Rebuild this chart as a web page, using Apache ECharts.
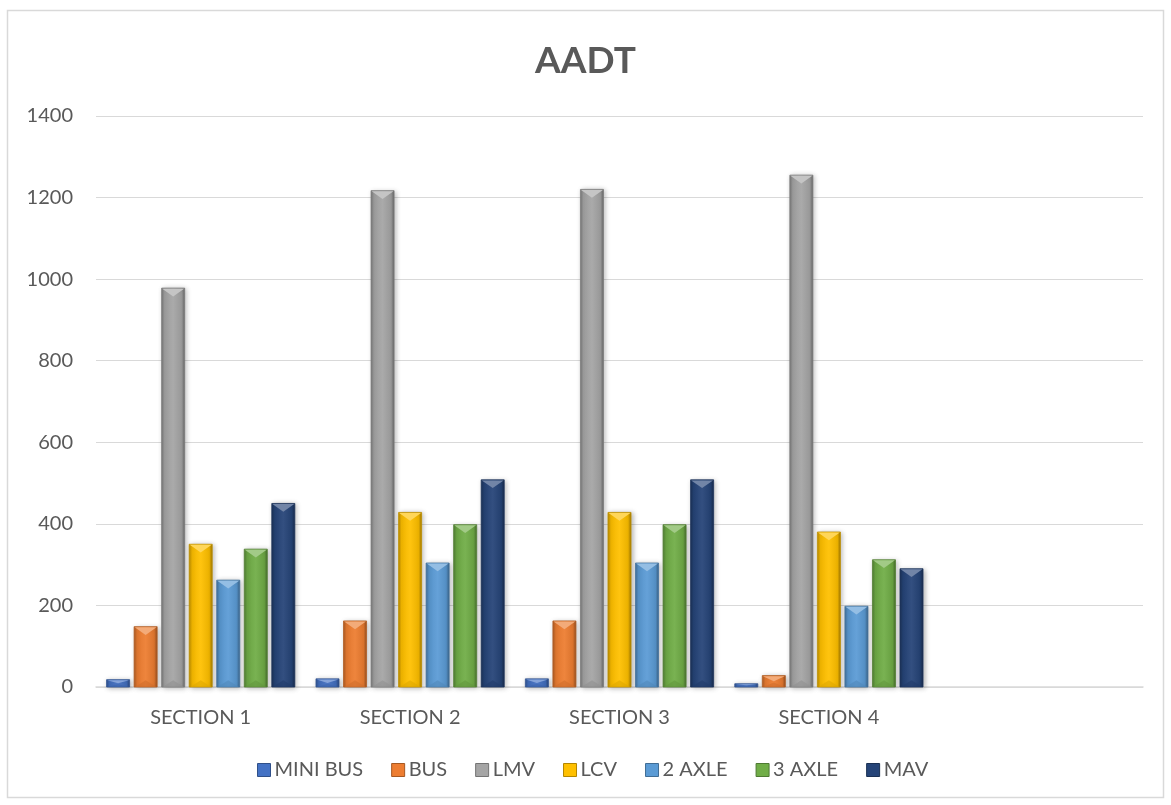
<!DOCTYPE html>
<html>
<head>
<meta charset="utf-8">
<title>AADT</title>
<script src="https://cdn.jsdelivr.net/npm/echarts@6/dist/echarts.min.js"></script>
<style>
  html, body { margin: 0; padding: 0; background: #ffffff; }
  #chart { width: 1171px; height: 805px; }
</style>
</head>
<body>
<div id="chart"></div>
<script>
// Annual average daily traffic by section and vehicle class
const categories = ['SECTION 1', 'SECTION 2', 'SECTION 3', 'SECTION 4', ''];
const seriesNames = ['MINI BUS', 'BUS', 'LMV', 'LCV', '2 AXLE', '3 AXLE', 'MAV'];
const miniBus = [18, 20, 20, 8];
const bus = [148, 162, 162, 28];
const lmv = [978, 1217, 1220, 1255];
const lcv = [350, 428, 428, 380];
const axle2 = [262, 304, 304, 198];
const axle3 = [338, 398, 398, 312];
const mav = [450, 508, 508, 290];
const yTicks = [0, 200, 400, 600, 800, 1000, 1200, 1400];

const seriesValues = [miniBus, bus, lmv, lcv, axle2, axle3, mav];
const palette = ['#4472C4', '#ED7D31', '#A5A5A5', '#FFC000', '#5B9BD5', '#70AD47', '#264478'];

// blend a hex colour toward black (amt < 0) or white (amt > 0)
function shade(hex, amt) {
  const n = parseInt(hex.slice(1), 16);
  let r = (n >> 16) & 255, g = (n >> 8) & 255, b = n & 255;
  const t = amt < 0 ? 0 : 255, p = Math.abs(amt);
  r = Math.round(r + (t - r) * p);
  g = Math.round(g + (t - g) * p);
  b = Math.round(b + (t - b) * p);
  return 'rgb(' + r + ',' + g + ',' + b + ')';
}

// bevelled column: gradient body, light top facet, soft drop shadow
function makeRender(si, count, base) {
  return function (params, api) {
    const cat = api.value(0);
    const val = api.value(1);
    if (val == null || isNaN(val)) return;
    const topPt = api.coord([cat, val]);
    const basePt = api.coord([cat, 0]);
    const band = api.size([1, 0])[0];
    const barW = band * 0.110;
    const pitch = band * 0.1315;
    const cx = topPt[0] + (si - (count - 1) / 2) * pitch;
    const x0 = cx - barW / 2, x1 = cx + barW / 2;
    const y0 = topPt[1], y1 = basePt[1];
    const h = y1 - y0;
    const d = Math.min(barW * 0.36, h / 2);
    const children = [
      {
        type: 'rect',
        shape: { x: x0, y: y0, width: barW, height: h },
        style: {
          fill: {
            type: 'linear', x: 0, y: 0, x2: 1, y2: 0,
            colorStops: [
              { offset: 0, color: shade(base, -0.30) },
              { offset: 0.14, color: shade(base, -0.05) },
              { offset: 0.5, color: shade(base, 0.06) },
              { offset: 0.86, color: shade(base, -0.08) },
              { offset: 1, color: shade(base, -0.40) }
            ]
          },
          stroke: shade(base, -0.25),
          lineWidth: 0.8,
          shadowBlur: 5,
          shadowColor: 'rgba(0,0,0,0.28)',
          shadowOffsetX: 1.5,
          shadowOffsetY: 1
        }
      },
      {
        type: 'polygon',
        shape: { points: [[x0 + 0.6, y0 + 0.6], [x1 - 0.6, y0 + 0.6], [cx, y0 + d]] },
        style: { fill: shade(base, 0.35) }
      },
      {
        type: 'polygon',
        shape: { points: [[x0 + 1, y1], [x1 - 1, y1], [cx, y1 - d * 0.8]] },
        style: { fill: shade(base, -0.12), opacity: 0.6 }
      }
    ];
    return { type: 'group', children: children };
  };
}

const chart = echarts.init(document.getElementById('chart'), null, { renderer: 'canvas' });

const series = seriesNames.map(function (name, si) {
  return {
    name: name,
    type: 'custom',
    renderItem: makeRender(si, seriesNames.length, palette[si]),
    itemStyle: { color: palette[si] },
    encode: { x: 0, y: 1 },
    data: seriesValues[si].map(function (v, ci) { return [ci, v]; })
  };
});

chart.setOption({
  animation: false,
  backgroundColor: '#ffffff',
  textStyle: { fontFamily: 'Lato, "Open Sans", sans-serif' },
  graphic: [{
    type: 'rect',
    shape: { x: 7.5, y: 10.5, width: 1156, height: 787 },
    style: { fill: 'none', stroke: '#d9d9d9', lineWidth: 1.5 },
    silent: true
  }],
  title: {
    text: 'AADT',
    left: 'center',
    top: 38,
    textStyle: { fontSize: 37, fontWeight: 'bold', color: '#595959', fontFamily: 'Lato, sans-serif' }
  },
  legend: {
    data: seriesNames.map(function (n, i) {
      return { name: n, icon: 'rect', itemStyle: { color: palette[i], borderColor: shade(palette[i], -0.3), borderWidth: 1 } };
    }),
    left: 252,
    bottom: 20,
    itemWidth: 13,
    itemHeight: 13,
    itemGap: 28,
    textStyle: { fontSize: 20, color: '#595959', padding: [0, 0, 0, -1] }
  },
  grid: { left: 96, right: 28, top: 116, bottom: 118, containLabel: false },
  xAxis: {
    type: 'category',
    data: categories,
    axisLine: { lineStyle: { color: '#d9d9d9', width: 1.5 } },
    axisTick: { show: false },
    axisLabel: { fontSize: 20, color: '#595959', margin: 21 }
  },
  yAxis: {
    type: 'value',
    min: yTicks[0],
    max: yTicks[yTicks.length - 1],
    interval: yTicks[1] - yTicks[0],
    axisLine: { show: false },
    axisTick: { show: false },
    axisLabel: {
      fontSize: 20, color: '#595959', margin: 23,
      formatter: function (v) { return String(v); }
    },
    splitLine: { lineStyle: { color: '#d9d9d9', width: 1.2 } }
  },
  series: series
});
</script>
</body>
</html>
